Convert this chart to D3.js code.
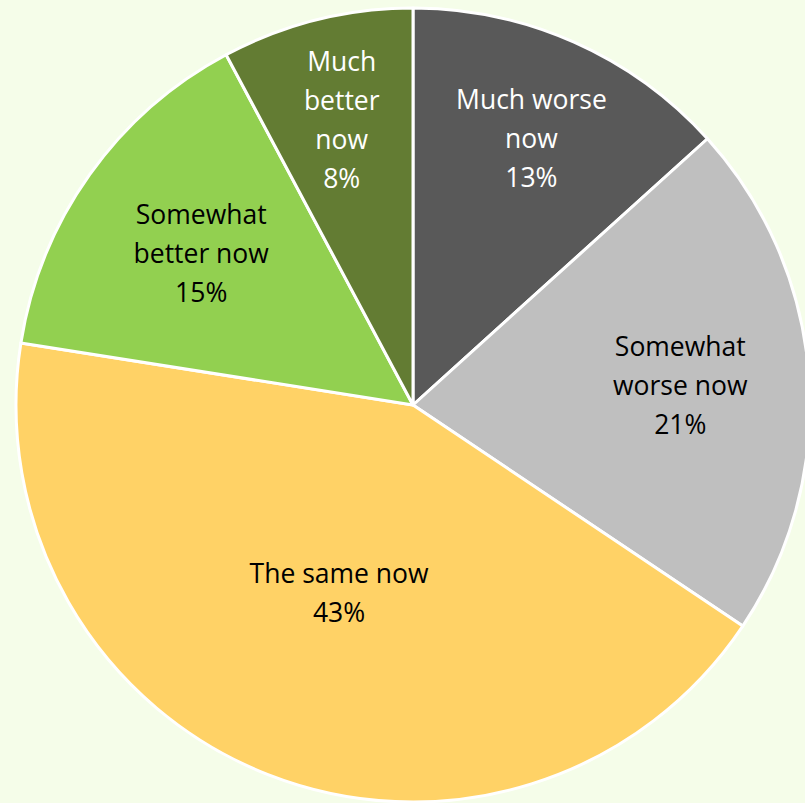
<!DOCTYPE html>
<meta charset="utf-8">
<style>
  body { margin: 0; background: #f5fde9; }
</style>
<svg width="805" height="803"></svg>
<script src="https://cdn.jsdelivr.net/npm/d3@7"></script>
<script>

    // slices, clockwise from 12 o'clock
    var categories = ["Much worse now", "Somewhat worse now", "The same now", "Somewhat better now", "Much better now"];
    var values = [13.3, 21.1, 43.1, 14.7, 7.8];
    var labelLines = [
        ["Much worse", "now"],
        ["Somewhat", "worse now"],
        ["The same now"],
        ["Somewhat", "better now"],
        ["Much", "better", "now"]
    ];
    var colors = ["#595959", "#bfbfbf", "#ffd266", "#92d050", "#637c33"];
    var textColors = ["#ffffff", "#000000", "#000000", "#000000", "#ffffff"];

    var svg = d3.select("svg"),
        cx = 413, cy = 405,
        radius = 397;

    var g = svg.append("g")
        .attr("transform", "translate(" + cx + "," + cy + ")");

    var data = categories.map((c, i) => ({name: c, value: values[i], lines: labelLines[i], i: i}));

    var pie = d3.pie().sort(null).value(d => d.value);
    var arc = d3.arc().innerRadius(0).outerRadius(radius);

    var arcs = pie(data);

    g.selectAll("path")
        .data(arcs)
        .enter().append("path")
        .attr("d", arc)
        .attr("fill", d => colors[d.data.i])
        .attr("stroke", "#ffffff")
        .attr("stroke-width", 3)
        .attr("stroke-linejoin", "round");

    // how far out the label sits (share of radius), roughly as Excel placed them
    var labelR = [0.735, 0.675, 0.51, 0.655, 0.74];
    var lineH = 39;

    var labels = g.selectAll("text.lbl")
        .data(arcs)
        .enter().append("text")
        .attr("class", "lbl")
        .attr("text-anchor", "middle")
        .attr("font-family", "'Open Sans', 'Noto Sans', sans-serif")
        .attr("font-size", 26.5)
        .attr("fill", d => textColors[d.data.i])
        .attr("transform", d => {
            var a = (d.startAngle + d.endAngle) / 2,
                r = radius * labelR[d.data.i];
            return "translate(" + (Math.sin(a) * r) + "," + (-Math.cos(a) * r) + ")";
        });

    labels.each(function(d) {
        var lines = d.data.lines.concat([Math.round(d.data.value) + "%"]);
        var t = d3.select(this);
        var y0 = -(lines.length - 1) * lineH / 2;
        lines.forEach((s, k) => {
            t.append("tspan")
                .attr("x", 0)
                .attr("y", y0 + k * lineH)
                .attr("dy", "0.35em")
                .attr("textLength", null)
                .text(s);
        });
    });

</script>
